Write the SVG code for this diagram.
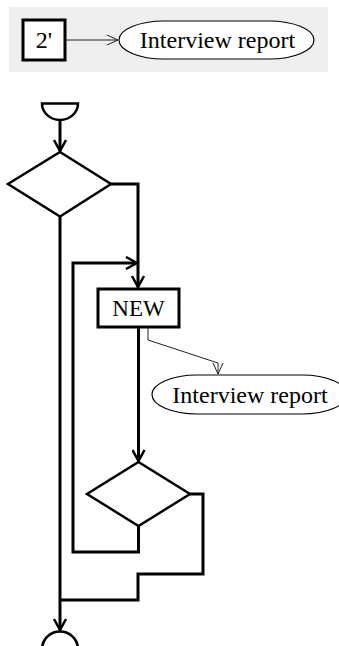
<svg xmlns="http://www.w3.org/2000/svg" width="339" height="646" viewBox="0 0 339 646">
<style>
  .bg { fill: #efefef; }
  .box { fill: #ffffff; stroke: #000; stroke-width: 3; }
  .dia { fill: #ffffff; stroke: #000; stroke-width: 2.5; }
  .term { fill: #ffffff; stroke: #000; stroke-width: 2.5; }
  .ell { fill: #ffffff; stroke: #000; stroke-width: 1.2; }
  .flow { fill: none; stroke: #000; stroke-width: 3; }
  .thin { fill: none; stroke: #222; stroke-width: 1; }
  .lbl { font-family: "Liberation Serif", "Times New Roman", serif; font-size: 24px; fill: #000; text-anchor: middle; dominant-baseline: central; }
  .lbl2 { font-family: "Liberation Serif", "Times New Roman", serif; font-size: 23px; fill: #000; text-anchor: middle; dominant-baseline: central; }
</style>
<defs>
  <marker id="openBig" markerWidth="14" markerHeight="14" refX="12" refY="7" orient="auto" markerUnits="userSpaceOnUse">
    <path d="M1,1 L12,7 L1,13" fill="none" stroke="#000" stroke-width="2.5"/>
  </marker>
  <marker id="openSmall" markerWidth="14" markerHeight="12" refX="12" refY="6" orient="auto" markerUnits="userSpaceOnUse">
    <path d="M1,1 L12,6 L1,11" fill="none" stroke="#222" stroke-width="1"/>
  </marker>
</defs>

<g id="legend">
  <rect class="bg" x="9" y="7" width="319" height="65"/>
  <g id="legend-box">
    <rect class="box" x="23" y="20" width="42" height="40"/>
    <text class="lbl" x="44" y="40">2'</text>
  </g>
  <g id="legend-ellipse">
    <rect class="ell" x="119" y="21" width="195" height="38" rx="45" ry="19"/>
    <text class="lbl" x="217.5" y="40">Interview report</text>
  </g>
  <path class="thin" d="M65,40 H118" marker-end="url(#openSmall)"/>
</g>

<g id="start">
  <path class="term" d="M42,103.5 H78 A18,16.5 0 0 1 42,103.5 Z"/>
</g>

<g id="decision1">
  <polygon class="dia" points="60,152 111,184 60,216.5 8,184"/>
</g>

<g id="new">
  <rect class="box" x="98" y="289" width="81" height="38"/>
  <text class="lbl2" x="138.5" y="308">NEW</text>
</g>

<g id="report">
  <rect class="ell" x="152" y="375" width="195" height="39" rx="45" ry="19.5"/>
  <text class="lbl" x="250" y="394.5">Interview report</text>
</g>

<g id="decision2">
  <polygon class="dia" points="138.5,462 190,494 138.5,526 87,494"/>
</g>

<g id="end">
  <path class="term" d="M42,649 A18,17.5 0 0 1 78,649"/>
</g>

<g id="connectors">
  <path class="flow" d="M60,120 V151" marker-end="url(#openBig)"/>
  <path class="flow" d="M111,184 H138 V287" marker-end="url(#openBig)"/>
  <path class="flow" d="M138.5,526 V552 H73 V263 H137" marker-end="url(#openBig)"/>
  <path class="flow" d="M138.5,327 V461" marker-end="url(#openBig)"/>
  <path class="flow" d="M190,494 H203 V574 H138 V600 H60"/>
  <path class="flow" d="M60,216.5 V630" marker-end="url(#openBig)"/>
  <path class="thin" d="M148,327 V340 L218,363 V374" marker-end="url(#openSmall)"/>
</g>
</svg>
